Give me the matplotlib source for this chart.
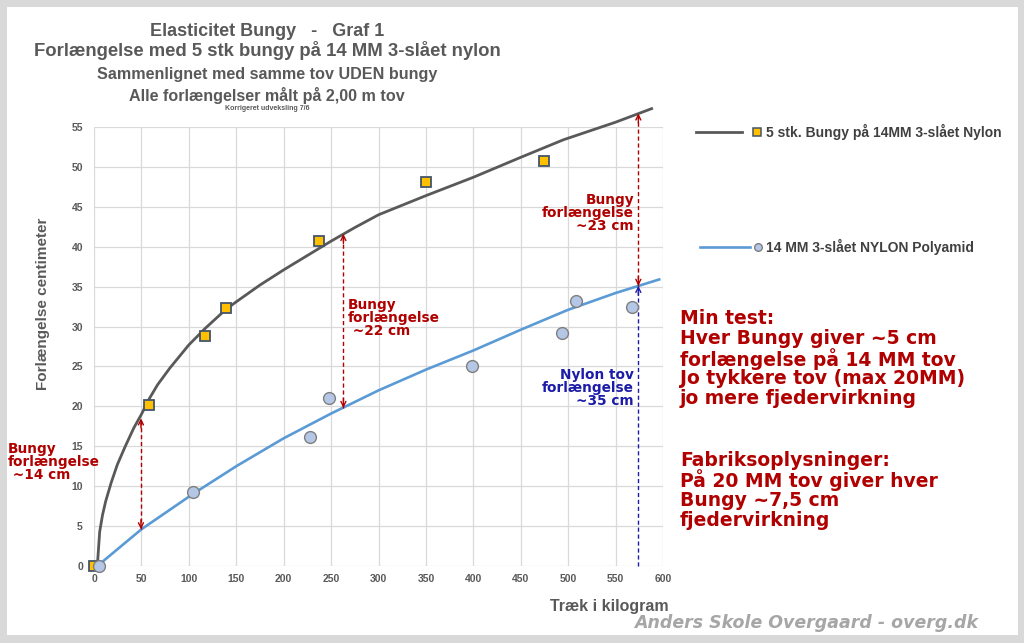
import matplotlib
matplotlib.use("Agg")
import matplotlib.pyplot as plt
from matplotlib.patches import Rectangle
from matplotlib.lines import Line2D

# measured points
bungy_x = [0, 58, 117, 139, 237, 350, 475]
bungy_y = [0, 20.2, 28.8, 32.3, 40.7, 48.1, 50.8]
nylon_x = [5, 104, 228, 248, 399, 493, 508, 567]
nylon_y = [0, 9.3, 16.2, 21.0, 25.1, 29.2, 33.2, 32.4]

# trend lines
bungy_trend_x = [3.5, 6, 9, 12.3, 18, 24.6, 33, 42, 50, 58, 67, 80, 100, 117.5, 138.6, 150,
                 175, 200, 225, 250, 275, 300, 350, 400, 450, 495, 550, 588]
bungy_trend_y = [0, 4.3, 6.4, 8.1, 10.4, 12.7, 15.0, 17.3, 19.0, 20.9, 22.7, 24.8, 27.7, 29.8,
                 32.1, 33.1, 35.2, 37.1, 38.9, 40.7, 42.4, 44.0, 46.4, 48.7, 51.2, 53.4, 55.6, 57.3]
nylon_trend_x = [3.5, 50, 104, 150, 200, 250, 300, 350, 400, 450, 500, 550, 596]
nylon_trend_y = [0, 4.6, 9.0, 12.5, 16.0, 19.1, 22.0, 24.6, 27.0, 29.6, 32.1, 34.2, 35.9]

# difference arrows
arrow_x = [49.5, 263, 574]
arrow_lo = [4.6, 19.8, 35.1]
arrow_hi = [18.5, 41.6, 56.7]
nylon_arrow_x = 574
nylon_arrow_hi = 35.1

x_ticks = list(range(0, 601, 50))
y_ticks = list(range(0, 56, 5))

GRAY = "#595959"
RED = "#b00000"
BLUE = "#1c1ca8"
W, H = 1024, 643


def px(x, y):
    return x / W, 1 - y / H


fig = plt.figure(figsize=(10.24, 6.43), dpi=100)
fig.patch.set_facecolor("#d9d9d9")
fig.add_artist(Rectangle(px(7, 635), 1011 / W, 628 / H, transform=fig.transFigure,
                         facecolor="white", edgecolor="none", zorder=0))

l, t = px(94, 127)
r, b = px(663, 566)
ax = fig.add_axes([l, b, r - l, t - b])
ax.set_facecolor("white")
ax.set_xlim(0, 600)
ax.set_ylim(0, 55)
ax.set_xticks(x_ticks)
ax.set_yticks(y_ticks)
ax.grid(True, color="#d9d9d9", lw=0.9)
ax.set_axisbelow(True)
for s in ax.spines.values():
    s.set_visible(False)
ax.tick_params(length=0, labelsize=7.5, labelcolor=GRAY)
ax.tick_params(axis="y", pad=8)
ax.tick_params(axis="x", pad=6)
for lab in ax.get_xticklabels() + ax.get_yticklabels():
    lab.set_fontweight("bold")
    lab.set_family("Liberation Sans")

ax.plot(bungy_trend_x, bungy_trend_y, color="#595959", lw=2.0, clip_on=False, zorder=3,
        solid_joinstyle="round")
ax.plot(nylon_trend_x, nylon_trend_y, color="#5b9bd5", lw=1.9, clip_on=False, zorder=3,
        solid_joinstyle="round")
ax.plot(bungy_x, bungy_y, ls="none", marker="s", ms=7, mfc="#ffc000", mec="#44546a",
        mew=1.3, clip_on=False, zorder=5)
ax.plot(nylon_x, nylon_y, ls="none", marker="o", ms=8.5, mfc="#b4c7e7", mec="#7f7f7f",
        mew=1.0, clip_on=False, zorder=5)

# dashed arrows
def head(x, y_tip, y_from, col):
    ax.annotate("", xy=(x, y_tip), xytext=(x, y_from),
                arrowprops=dict(arrowstyle="->", color=col, lw=1, shrinkA=0, shrinkB=0,
                                mutation_scale=9), annotation_clip=False, zorder=4)


for xa, lo, hi in zip(arrow_x, arrow_lo, arrow_hi):
    ax.plot([xa, xa], [lo, hi], color=RED, ls=(0, (3, 2)), lw=1, clip_on=False, zorder=4)
    head(xa, hi, hi - 1.2, RED)
    head(xa, lo, lo + 1.2, RED)
ax.plot([nylon_arrow_x, nylon_arrow_x], [0, nylon_arrow_hi], color=BLUE, ls=(0, (3, 2)),
        lw=1, clip_on=False, zorder=4)
head(nylon_arrow_x, nylon_arrow_hi, nylon_arrow_hi - 1.2, BLUE)

# titles
tf = "Liberation Sans"
fig.text(*px(267, 31), "Elasticitet Bungy   -   Graf 1", ha="center", va="center",
         fontsize=13, fontweight="bold", color=GRAY, family=tf)
fig.text(*px(267, 51), "Forlængelse med 5 stk bungy på 14 MM 3-slået nylon", ha="center",
         va="center", fontsize=13.3, fontweight="bold", color=GRAY, family=tf)
fig.text(*px(267, 74), "Sammenlignet med samme tov UDEN bungy", ha="center", va="center",
         fontsize=11.6, fontweight="bold", color=GRAY, family=tf)
fig.text(*px(267, 95), "Alle forlængelser målt på 2,00 m tov", ha="center", va="center",
         fontsize=11.6, fontweight="bold", color=GRAY, family=tf)
fig.text(*px(267, 109), "Korrigeret udveksling 7/6", ha="center", va="center",
         fontsize=5, fontweight="bold", color=GRAY, family=tf)

fig.text(*px(43, 304), "Forlængelse centimeter", rotation=90, ha="center", va="center",
         fontsize=11, fontweight="bold", color=GRAY, family=tf)
fig.text(*px(609, 607), "Træk i kilogram", ha="center", va="center",
         fontsize=11.5, fontweight="bold", color=GRAY, family=tf)

# annotations
af = "DejaVu Sans"
for x0, ys, lines, col, ha in [
    (8, [449, 462, 475], ["Bungy", "forlængelse", " ~14 cm"], RED, "left"),
    (348, [305, 318, 331], ["Bungy", "forlængelse", " ~22 cm"], RED, "left"),
    (634, [200, 213, 226], ["Bungy", "forlængelse", "~23 cm"], RED, "right"),
    (634, [375, 388, 401], ["Nylon tov", "forlængelse", "~35 cm"], BLUE, "right"),
]:
    for yy, s in zip(ys, lines):
        fig.text(*px(x0, yy), s, ha=ha, va="center", fontsize=9.8, fontweight="bold",
                 color=col, family=af)

block = [(318, "Min test:"), (338, "Hver Bungy giver ~5 cm"),
         (359, "forlængelse på 14 MM tov"), (379, "Jo tykkere tov (max 20MM)"),
         (399, "jo mere fjedervirkning"), (461, "Fabriksoplysninger:"),
         (480, "På 20 MM tov giver hver"), (500, "Bungy ~7,5 cm"),
         (520, "fjedervirkning")]
for yy, s in block:
    fig.text(*px(680, yy), s, ha="left", va="center", fontsize=13.5, fontweight="bold",
             color=RED, family=af)

# legend
fig.add_artist(Line2D([696 / W, 742 / W], [1 - 132 / H] * 2, color="#595959", lw=2.0,
                      transform=fig.transFigure))
fig.add_artist(Line2D([757 / W], [1 - 132 / H], marker="s", ms=5.5, mfc="#ffc000",
                      mec="#44546a", mew=1.1, transform=fig.transFigure))
fig.text(*px(766, 132), "5 stk. Bungy på 14MM 3-slået Nylon", ha="left", va="center",
         fontsize=10, fontweight="bold", color="#404040", family=tf)
fig.add_artist(Line2D([700 / W, 750 / W], [1 - 247 / H] * 2, color="#5b9bd5", lw=1.9,
                      transform=fig.transFigure))
fig.add_artist(Line2D([758 / W], [1 - 247 / H], marker="o", ms=5.5, mfc="#b4c7e7",
                      mec="#7f7f7f", mew=1.0, transform=fig.transFigure))
fig.text(*px(766, 247), "14 MM 3-slået NYLON Polyamid", ha="left", va="center",
         fontsize=10, fontweight="bold", color="#404040", family=tf)

fig.text(*px(978, 623), "Anders Skole Overgaard - overg.dk", ha="right", va="center",
         fontsize=12.5, fontweight="bold", style="italic", color="#a6a6a6", family=af)

fig.savefig("out.png", dpi=100, facecolor=fig.get_facecolor())
